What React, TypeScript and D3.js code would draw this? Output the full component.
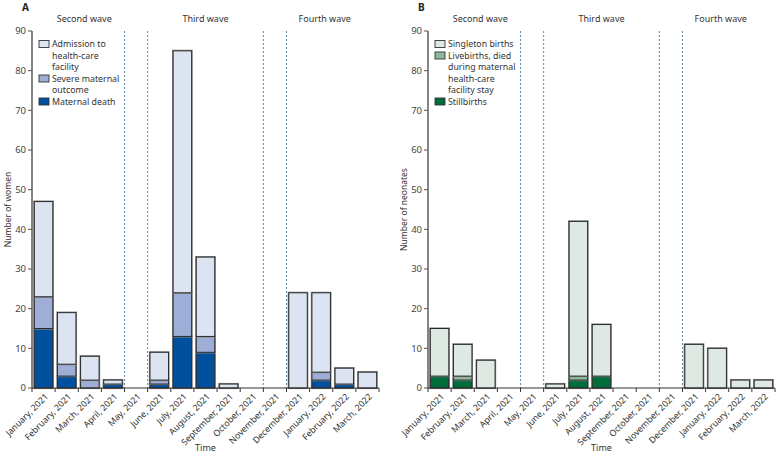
import { useMemo } from 'react'
import * as d3 from 'd3'

const months = [
  'January, 2021', 'February, 2021', 'March, 2021', 'April, 2021', 'May, 2021',
  'June, 2021', 'July, 2021', 'August, 2021', 'September, 2021', 'October, 2021',
  'November, 2021', 'December, 2021', 'January, 2022', 'February, 2022', 'March, 2022'
]

// panel A (women) – stacked segments, bottom to top
const maternalDeath = [15, 3, 0, 1, 0, 1, 13, 9, 0, 0, 0, 0, 2, 1, 0]
const severeOutcome = [8, 3, 2, 0, 0, 1, 11, 4, 0, 0, 0, 0, 2, 0, 0]
const admission = [24, 13, 6, 1, 0, 7, 61, 20, 1, 0, 0, 24, 20, 4, 4]

// panel B (neonates)
const stillbirths = [3, 2, 0, 0, 0, 0, 2, 3, 0, 0, 0, 0, 0, 0, 0]
const liveDied = [0, 1, 0, 0, 0, 0, 1, 0, 0, 0, 0, 0, 0, 0, 0]
const singleton = [12, 8, 7, 0, 0, 1, 39, 13, 0, 0, 0, 11, 10, 2, 2]

const yTicks = [0, 10, 20, 30, 40, 50, 60, 70, 80, 90]
const waves = [
  { label: 'Second wave', from: 0, to: 4 },
  { label: 'Third wave', from: 5, to: 10 },
  { label: 'Fourth wave', from: 11, to: 15 }
]
// dashed separators sit on band boundaries
const dividers = [4, 5, 10, 11]

const font = '"Noto Sans", "Open Sans", sans-serif'

interface Series {
  name: string[]
  values: number[]
  color: string
}

interface PanelProps {
  left: number
  right: number
  letter: string
  yLabel: string
  series: Series[]
}

function Panel({ left, right, letter, yLabel, series }: PanelProps) {
  const top = 31
  const bottom = 388

  const x = useMemo(
    () => d3.scaleBand<string>().domain(months).range([left, right]).paddingInner(0.2).paddingOuter(0.1),
    [left, right]
  )
  const y = d3.scaleLinear().domain([0, 90]).range([bottom, top])
  const step = x.step()
  const boundary = (i: number) => left + i * step

  const stacked = useMemo(() => {
    const rows = months.map((m, i) => {
      const r: any = { month: m }
      series.forEach((s, k) => (r['s' + k] = s.values[i]))
      return r
    })
    return d3.stack().keys(series.map((_, k) => 's' + k))(rows)
  }, [series])

  // legend rows
  let legendLine = 0
  const legendX = left + 7

  return (
    <g fontFamily={font}>
      <text x={left - 10} y={11} fontSize={10} fontWeight={700} fill="#222">{letter}</text>

      {waves.map(w => (
        <text key={w.label} x={(boundary(w.from) + boundary(w.to)) / 2 + (w.from === 0 ? 6 : w.from === 11 ? -8 : 0)} y={22}
          fontSize={9} fill="#333" textAnchor="middle">{w.label}</text>
      ))}

      {dividers.map(d => (
        <line key={d} x1={boundary(d)} x2={boundary(d)} y1={top} y2={bottom}
          stroke="#4d7896" strokeWidth={0.9} strokeDasharray="2,2" />
      ))}

      {stacked.map((layer, k) => (
        <g key={k}>
          {layer.map((d, i) => {
            if (d[1] - d[0] <= 0) return null
            const bx = x(months[i]) as number
            return (
              <g key={i}>
                <rect x={bx} y={y(d[1])} width={x.bandwidth()} height={y(d[0]) - y(d[1])}
                  fill={series[k].color} stroke="#8a8a8a" strokeWidth={2.2} />
                <rect x={bx} y={y(d[1])} width={x.bandwidth()} height={y(d[0]) - y(d[1])}
                  fill={series[k].color} stroke="#2a2a2a" strokeWidth={1} />
              </g>
            )
          })}
        </g>
      ))}

      {/* y axis */}
      <line x1={left} x2={left} y1={top} y2={bottom} stroke="#666" strokeWidth={1.6} />
      {yTicks.map(t => (
        <g key={t} transform={`translate(${left},${y(t)})`}>
          <line x1={-4} x2={0} stroke="#555" strokeWidth={1} />
          <text x={-6} dy="0.35em" fontSize={9.5} fill="#444" textAnchor="end">{t}</text>
        </g>
      ))}
      <text transform={`translate(${left - 21},${(top + bottom) / 2}) rotate(-90)`} fontSize={8.5}
        fill="#333" textAnchor="middle">{yLabel}</text>

      {/* x axis */}
      <line x1={left} x2={right} y1={bottom} y2={bottom} stroke="#333" strokeWidth={1} />
      {d3.range(months.length + 1).map(i => (
        <line key={i} x1={boundary(i)} x2={boundary(i)} y1={bottom} y2={bottom + 4} stroke="#333" strokeWidth={1} />
      ))}
      {months.map(m => (
        <text key={m} transform={`translate(${(x(m) as number) + x.bandwidth() / 2 + 3},${bottom + 7}) rotate(-45)`}
          fontSize={8.8} fill="#333" textAnchor="end" dy="0.35em">{m}</text>
      ))}
      <text x={(left + right) / 2} y={451} fontSize={9} fill="#333" textAnchor="middle">Time</text>

      {/* legend */}
      {series.slice().reverse().map(s => {
        const ly = 44 + legendLine * 11.5
        legendLine += s.name.length
        return (
          <g key={s.name[0]}>
            <rect x={legendX} y={ly - 3.5} width={10} height={7} fill={s.color} stroke="#333" strokeWidth={0.9} />
            {s.name.map((n, j) => (
              <text key={n} x={legendX + 13} y={ly + j * 11.5} dy="0.35em" fontSize={8.8} fill="#333">{n}</text>
            ))}
          </g>
        )
      })}
    </g>
  )
}

const seriesA: Series[] = [
  { name: ['Maternal death'], values: maternalDeath, color: '#00509e' },
  { name: ['Severe maternal', 'outcome'], values: severeOutcome, color: '#9eaed7' },
  { name: ['Admission to', 'health-care', 'facility'], values: admission, color: '#dce3f1' }
]

const seriesB: Series[] = [
  { name: ['Stillbirths'], values: stillbirths, color: '#006e3b' },
  { name: ['Livebirths, died', 'during maternal', 'health-care', 'facility stay'], values: liveDied, color: '#8dbb9f' },
  { name: ['Singleton births'], values: singleton, color: '#dde9e2' }
]

export default function App() {
  return (
    <svg width={776} height={457} style={{ position: 'absolute', left: 0, top: 0, background: '#fff' }}>
      <Panel left={32} right={379} letter="A" yLabel="Number of women" series={seriesA} />
      <Panel left={428} right={775} letter="B" yLabel="Number of neonates" series={seriesB} />
    </svg>
  )
}
